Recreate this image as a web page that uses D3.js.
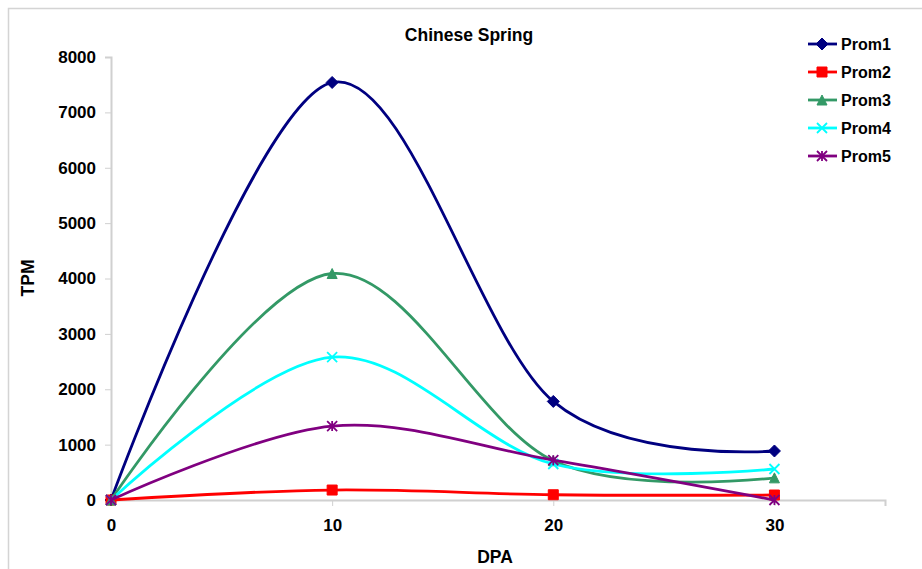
<!DOCTYPE html>
<html lang="en">
<head>
    <meta charset="UTF-8">
    <title>Chinese Spring</title>
    <script src="https://cdn.jsdelivr.net/npm/d3@7"></script>
    <style>
        body { margin: 0; background: #fff; }
        text { font-family: "Liberation Sans", Arial, sans-serif; font-weight: bold; fill: #000; }
    </style>
</head>
<body>
<script type="text/javascript">
    var dpa = [0, 10, 20, 30];
    var seriesNames = ['Prom1', 'Prom2', 'Prom3', 'Prom4', 'Prom5'];
    var prom1 = [0, 7540, 1780, 885];
    var prom2 = [0, 180, 95, 90];
    var prom3 = [0, 4090, 710, 400];
    var prom4 = [0, 2580, 650, 560];
    var prom5 = [0, 1335, 720, 0];
    var yTicks = [0, 1000, 2000, 3000, 4000, 5000, 6000, 7000, 8000];
    var xTicks = [0, 10, 20, 30];

    var colors = ['#000080', '#ff0000', '#339966', '#00ffff', '#800080'];
    var markers = ['diamond', 'square', 'triangle', 'x', 'star'];
    var values = [prom1, prom2, prom3, prom4, prom5];

    var width = 922, height = 569;
    var svg = d3.select('body').append('svg')
            .attr('width', width)
            .attr('height', height);

    // outer frame
    svg.append('path')
            .attr('d', 'M8.5,' + height + 'V8.5H' + width)
            .attr('fill', 'none')
            .attr('stroke', '#d4d4d4')
            .attr('stroke-width', 1.5);

    var x = d3.scaleLinear().domain([0, 35]).range([111, 885]);
    var y = d3.scaleLinear().domain([0, 8000]).range([500, 57]);

    var gx = svg.append('g')
            .attr('transform', 'translate(0,500)')
            .call(d3.axisBottom(x).tickValues(xTicks).tickFormat(d3.format('d')).tickSize(6).tickPadding(13));
    var gy = svg.append('g')
            .attr('transform', 'translate(111,0)')
            .call(d3.axisLeft(y).tickValues(yTicks).tickFormat(d3.format('d')).tickSize(6).tickPadding(9));
    [gx, gy].forEach(function (g) {
        g.select('.domain').attr('stroke', '#d0d0d0').attr('stroke-width', 2);
        g.selectAll('.tick line').attr('stroke', '#d0d0d0');
        g.selectAll('.tick text')
                .attr('font-family', '"Liberation Sans", Arial, sans-serif')
                .attr('font-weight', 'bold')
                .attr('font-size', '17px')
                .attr('fill', '#000');
    });

    svg.append('text')
            .attr('x', 469).attr('y', 41)
            .attr('text-anchor', 'middle')
            .attr('font-size', '17.5px')
            .text('Chinese Spring');
    svg.append('text')
            .attr('x', 495).attr('y', 563)
            .attr('text-anchor', 'middle')
            .attr('font-size', '17.5px')
            .text('DPA');
    svg.append('text')
            .attr('transform', 'translate(34,278) rotate(-90)')
            .attr('text-anchor', 'middle')
            .attr('font-size', '17.5px')
            .text('TPM');

    function markerPath(type, s) {
        switch (type) {
            case 'diamond':
                return 'M0,' + (-s) + 'L' + s + ',0L0,' + s + 'L' + (-s) + ',0Z';
            case 'square':
                return 'M' + (-s) + ',' + (-s) + 'H' + s + 'V' + s + 'H' + (-s) + 'Z';
            case 'triangle':
                return 'M0,' + (-s) + 'L' + s + ',' + s + 'L' + (-s) + ',' + s + 'Z';
            case 'x':
                return 'M' + (-s) + ',' + (-s) + 'L' + s + ',' + s + 'M' + s + ',' + (-s) + 'L' + (-s) + ',' + s;
            case 'star':
                return 'M' + (-s) + ',' + (-s) + 'L' + s + ',' + s + 'M' + s + ',' + (-s) + 'L' + (-s) + ',' + s +
                        'M0,' + (-s) + 'V' + s;
        }
    }
    function drawMarker(g, type, color, cx, cy) {
        var filled = type === 'diamond' || type === 'square' || type === 'triangle';
        var s = type === 'diamond' ? 6 : 5;
        g.append('path')
                .attr('transform', 'translate(' + cx + ',' + cy + ')')
                .attr('d', markerPath(type, s))
                .attr('fill', filled ? color : 'none')
                .attr('stroke', color)
                .attr('stroke-width', filled ? 1 : 1.8);
    }

    var line = d3.line()
            .x(function (d, i) { return x(dpa[i]); })
            .y(function (d) { return y(d); })
            .curve(d3.curveCardinal.tension(0));

    values.forEach(function (vals, k) {
        var g = svg.append('g');
        g.append('path')
                .attr('d', line(vals))
                .attr('fill', 'none')
                .attr('stroke', colors[k])
                .attr('stroke-width', 2.8);
        vals.forEach(function (v, i) {
            drawMarker(g, markers[k], colors[k], x(dpa[i]), y(v));
        });
    });

    // legend
    var legend = svg.append('g');
    seriesNames.forEach(function (name, k) {
        var ly = 44 + k * 28;
        legend.append('line')
                .attr('x1', 808).attr('x2', 837)
                .attr('y1', ly).attr('y2', ly)
                .attr('stroke', colors[k])
                .attr('stroke-width', 2.8);
        drawMarker(legend, markers[k], colors[k], 822, ly);
        legend.append('text')
                .attr('x', 841).attr('y', ly + 6)
                .attr('font-size', '16px')
                .text(name);
    });
</script>
</body>
</html>
